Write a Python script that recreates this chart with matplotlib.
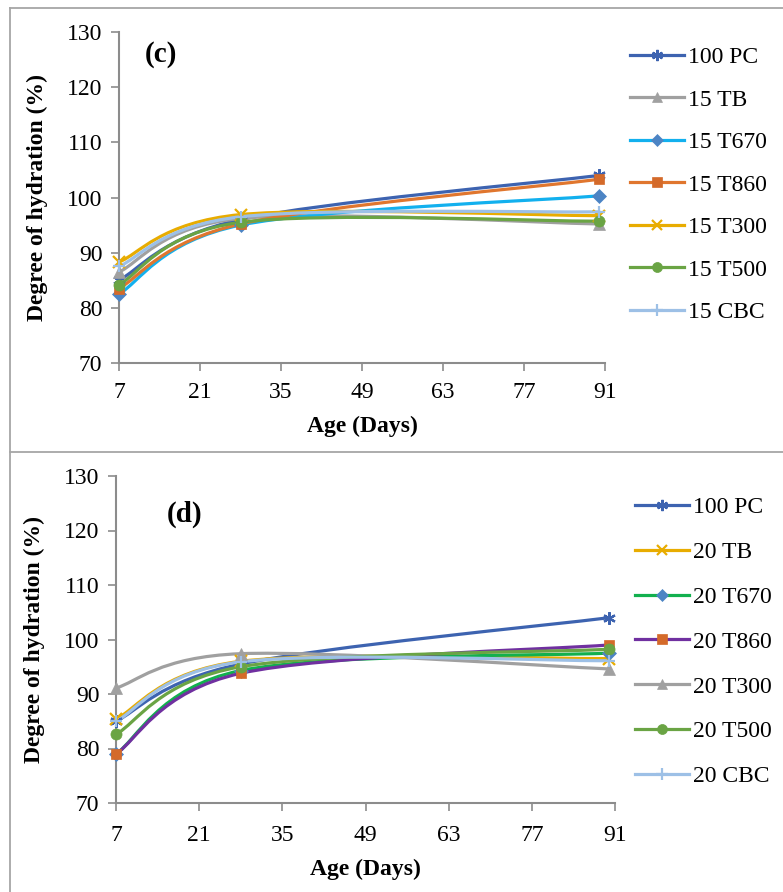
import matplotlib
matplotlib.use("Agg")
import matplotlib.pyplot as plt
from matplotlib.path import Path
from matplotlib.patches import PathPatch
from matplotlib.lines import Line2D
import numpy as np

plt.rcParams['font.family'] = ['Liberation Serif', 'DejaVu Serif']

# ---------------- data ----------------
days = [7, 28, 90]
x_ticks = [7, 21, 35, 49, 63, 77, 91]
y_ticks = [70, 80, 90, 100, 110, 120, 130]

labels_c = ["100 PC", "15 TB", "15 T670", "15 T860", "15 T300", "15 T500", "15 CBC"]
pc_c   = [85.0, 96.0, 104.0]
tb_c   = [86.5, 96.2, 95.2]
t670_c = [82.5, 95.0, 100.3]
t860_c = [83.5, 95.2, 103.3]
t300_c = [88.3, 96.9, 96.7]
t500_c = [84.2, 95.5, 95.7]
cbc_c  = [87.5, 96.5, 97.4]

labels_d = ["100 PC", "20 TB", "20 T670", "20 T860", "20 T300", "20 T500", "20 CBC"]
pc_d   = [85.0, 95.5, 104.0]
tb_d   = [85.4, 96.0, 96.5]
t670_d = [79.0, 94.3, 97.5]
t860_d = [79.0, 93.8, 99.0]
t300_d = [91.1, 97.4, 94.6]
t500_d = [82.6, 95.0, 98.2]
cbc_d  = [85.0, 95.9, 96.1]

# ---------------- styles ----------------
BLUE = "#3D63B0"
GRAY = "#A0A0A0"
CYAN = "#12B0EE"
ORANGE = "#E0762E"
SQ = "#D46A2A"
YELLOW = "#E8AC00"
GREEN = "#6AA444"
LBLUE = "#9DC0E6"
DIAM = "#4C84C4"
BGREEN = "#12B04E"
PURPLE = "#7030A0"

star = (6, 2, 0)
styles_c = [
    dict(lc=BLUE, mc=BLUE, m=star, ms=9),
    dict(lc=GRAY, mc=GRAY, m='^', ms=8),
    dict(lc=CYAN, mc=DIAM, m='D', ms=7),
    dict(lc=ORANGE, mc=SQ, m='s', ms=7.5),
    dict(lc=YELLOW, mc=YELLOW, m='x', ms=8),
    dict(lc=GREEN, mc=GREEN, m='o', ms=8),
    dict(lc=LBLUE, mc=LBLUE, m='+', ms=9),
]
styles_d = [
    dict(lc=BLUE, mc=BLUE, m=star, ms=9),
    dict(lc=YELLOW, mc=YELLOW, m='x', ms=8),
    dict(lc=BGREEN, mc=DIAM, m='D', ms=7),
    dict(lc=PURPLE, mc=SQ, m='s', ms=7.5),
    dict(lc=GRAY, mc=GRAY, m='^', ms=8),
    dict(lc=GREEN, mc=GREEN, m='o', ms=8),
    dict(lc=LBLUE, mc=LBLUE, m='+', ms=9),
]

AX_COL = "#8C8C8C"
FS = 17


def smooth_path(xs, ys):
    pts = np.column_stack([xs, ys]).astype(float)
    n = len(pts)
    verts = [pts[0]]
    codes = [Path.MOVETO]
    for i in range(n - 1):
        p0 = pts[i - 1] if i > 0 else pts[i]
        p1 = pts[i]
        p2 = pts[i + 1]
        p3 = pts[i + 2] if i + 2 < n else pts[i + 1]
        c1 = p1 + (p2 - p0) / 6.0
        c2 = p2 - (p3 - p1) / 6.0
        verts += [c1, c2, p2]
        codes += [Path.CURVE4] * 3
    return Path(verts, codes)


def draw_panel(ax, series, labels, styles, tag, tagpos, leg_bbox, leg_spacing, xpad):
    handles = []
    for ys, lab, st in zip(series, labels, styles):
        path = smooth_path(days, ys)
        patch = PathPatch(path, facecolor='none', edgecolor=st['lc'], lw=2.3,
                          transform=ax.transData, capstyle='round', zorder=2)
        ax.add_patch(patch)
        mew = 1.6 if st['m'] in ('x', '+', star) else 0.5
        ax.plot(days, ys, linestyle='none', marker=st['m'], ms=st['ms'],
                color=st['mc'], mec=st['mc'], mew=mew, zorder=3, clip_on=False)
        handles.append(Line2D([], [], color=st['lc'], lw=2.3, marker=st['m'],
                              ms=st['ms'] * 0.9, mfc=st['mc'], mec=st['mc'], mew=mew))
    ax.set_xlim(7, 91)
    ax.set_ylim(70, 130)
    ax.set_xticks(x_ticks)
    ax.set_yticks(y_ticks)
    for s in ['top', 'right']:
        ax.spines[s].set_visible(False)
    for s in ['left', 'bottom']:
        ax.spines[s].set_color(AX_COL)
        ax.spines[s].set_linewidth(1.5)
    ax.tick_params(axis='both', direction='out', length=6, width=1.2, color=AX_COL,
                   labelsize=FS, labelcolor='black', pad=6)
    ax.tick_params(axis='x', pad=xpad)
    ax.set_xlabel("Age (Days)", fontsize=FS, fontweight='bold', labelpad=9)
    ax.set_ylabel("Degree of hydration (%)", fontsize=FS, fontweight='bold', labelpad=14)
    ax.text(tagpos[0], tagpos[1], tag, fontsize=21, fontweight='bold',
            transform=ax.transData, va='center', ha='left')
    leg = ax.get_figure().legend(handles=handles, labels=labels, loc='upper left',
                                 bbox_to_anchor=leg_bbox, frameon=False, fontsize=FS,
                                 handlelength=2.25, handletextpad=0.2,
                                 labelspacing=leg_spacing, borderaxespad=0)
    return leg


fig = plt.figure(figsize=(7.83, 8.92), dpi=100)
W, H = 783, 892


def fr(x0, y0, x1, y1):
    return [x0 / W, 1 - y1 / H, (x1 - x0) / W, (y1 - y0) / H]


ax1 = fig.add_axes(fr(119, 32, 605, 363))
ax2 = fig.add_axes(fr(116, 476, 615, 803))

draw_panel(ax1, [pc_c, tb_c, t670_c, t860_c, t300_c, t500_c, cbc_c], labels_c, styles_c,
           "(c)", (11.5, 126.0), (621 / W, 1 - 37 / H), 0.89, 8)
draw_panel(ax2, [pc_d, tb_d, t670_d, t860_d, t300_d, t500_d, cbc_d], labels_d, styles_d,
           "(d)", (15.5, 123.0), (626 / W, 1 - 487 / H), 0.99, 10)

# frames
fc = "#A6A6A6"
fig.add_artist(Line2D([10 / W, 10 / W], [0, 1 - 8 / H], color=fc, lw=1.3, transform=fig.transFigure))
fig.add_artist(Line2D([10 / W, 1], [1 - 8 / H, 1 - 8 / H], color=fc, lw=1.3, transform=fig.transFigure))
fig.add_artist(Line2D([10 / W, 1], [1 - 452 / H, 1 - 452 / H], color=fc, lw=1.3, transform=fig.transFigure))

fig.savefig("out.png", dpi=100)
